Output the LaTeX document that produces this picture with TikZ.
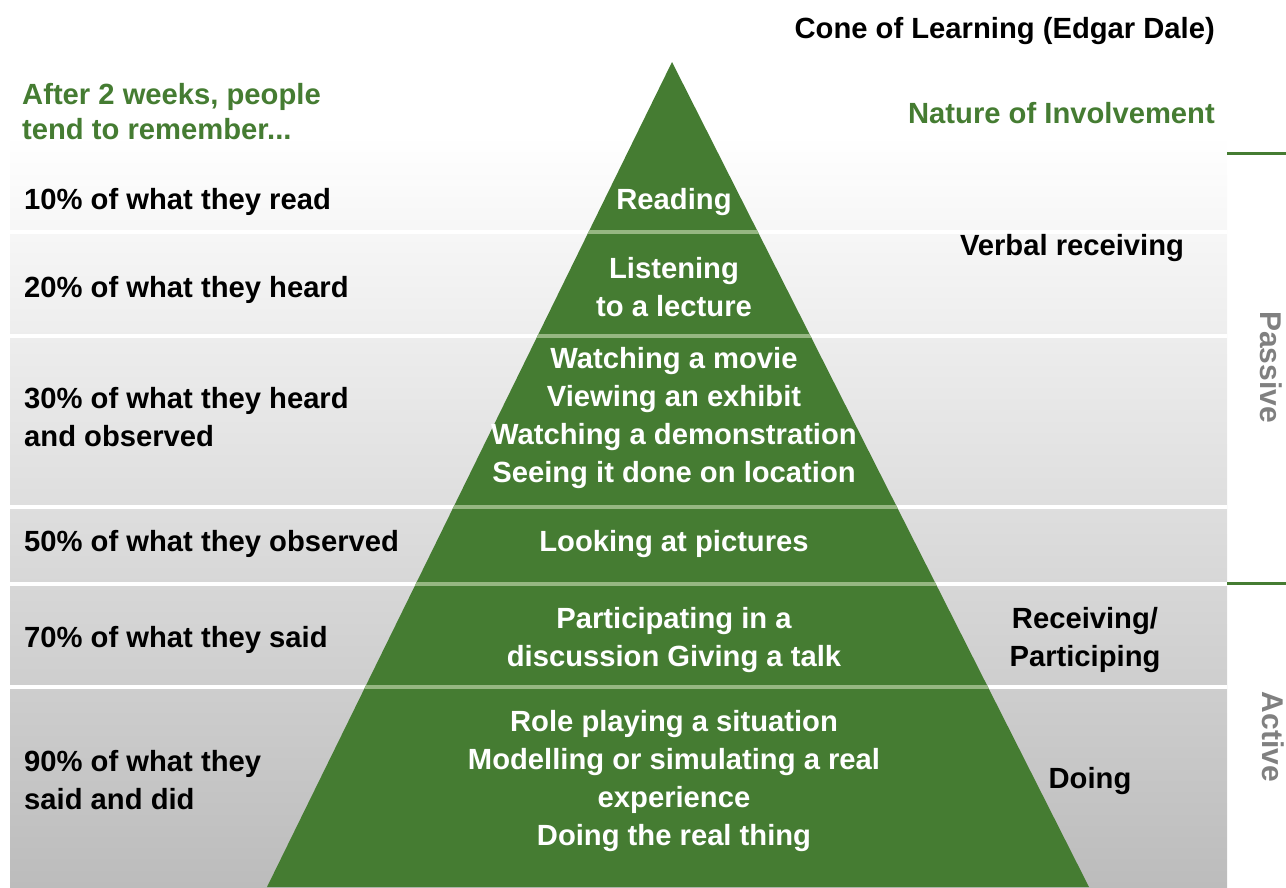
\documentclass[tikz,border=0pt]{standalone}
\usepackage{fontspec}
\setmainfont{Liberation Sans}
\definecolor{cgreen}{RGB}{69,124,50}
\definecolor{sepgreen}{RGB}{150,183,130}
\definecolor{bandbot}{RGB}{188,188,188}
\definecolor{sidegray}{RGB}{128,128,128}
\begin{document}
\begin{tikzpicture}[x=1pt,y=-1pt,
  txt/.style={font=\bfseries\fontsize{29.2}{38}\selectfont, inner sep=0pt, align=center},
  lefttxt/.style={txt, align=left, anchor=west},
  cone/.style={txt, text=white},
  head/.style={lefttxt, text=cgreen},
  side/.style={font=\bfseries\fontsize{30}{36}\selectfont, inner sep=0pt, text=sidegray, rotate=-90},
  sep/.style={draw=white, line width=3.5pt},
  sepin/.style={draw=sepgreen, line width=3.5pt},
  divider/.style={draw=cgreen, line width=3pt}]
\useasboundingbox (0,0) rectangle (1286,887);
% background bands
\shade[top color=white, bottom color=bandbot] (10,135) rectangle (1227,887);
\foreach \y in {232,336,507,584,687} \draw[sep] (10,\y) -- (1227,\y);
% cone
\fill[cgreen] (672,62) -- (1089,887) -- (267,887) -- cycle;
\begin{scope}
  \clip (672,62) -- (1089,887) -- (267,887) -- cycle;
  \foreach \y in {232,336,507,584,687} \draw[sepin] (10,\y) -- (1227,\y);
\end{scope}
% right dividers
\coordinate (d1a) at (1227,153); \coordinate (d1b) at (1286,153);
\coordinate (d2a) at (1227,583); \coordinate (d2b) at (1286,583);
\draw[divider] (d1a) -- (d1b);
\draw[divider] (d2a) -- (d2b);
% headings
\node[txt, anchor=east] (title) at (1215,31) {Cone of Learning (Edgar Dale)};
\node[txt, text=cgreen, anchor=east] (nature) at (1215,113) {Nature of Involvement};
\node[head, font=\bfseries\fontsize{29.2}{35}\selectfont] (after) at (22,112) {After 2 weeks, people\\tend to remember...};
% left labels
\node[lefttxt] (l1) at (24,202) {10\% of what they read};
\node[lefttxt] (l2) at (24,290) {20\% of what they heard};
\node[lefttxt] (l3) at (24,417) {30\% of what they heard\\and observed};
\node[lefttxt] (l4) at (24,544) {50\% of what they observed};
\node[lefttxt] (l5) at (24,640) {70\% of what they said};
\node[lefttxt] (l6) at (24,780) {90\% of what they\\said and did};
% cone labels
\node[cone] (c1) at (674,202) {Reading};
\node[cone] (c2) at (674,287) {Listening\\to a lecture};
\node[cone] (c3) at (674,418) {Watching a movie\\Viewing an exhibit\\Watching a demonstration\\Seeing it done on location};
\node[cone] (c4) at (674,544) {Looking at pictures};
\node[cone] (c5) at (674,640) {Participating in a\\discussion Giving a talk};
\node[cone] (c6) at (674,781) {Role playing a situation\\Modelling or simulating a real\\experience\\Doing the real thing};
% right labels
\node[txt] (r1) at (1072,248) {Verbal receiving};
\node[txt] (r2) at (1085,640) {Receiving/\\Participing};
\node[txt] (r3) at (1090,781) {Doing};
% side labels
\node[side] (passive) at (1271,367) {Passive};
\node[side] (active) at (1273,737) {Active};
\end{tikzpicture}
\end{document}
